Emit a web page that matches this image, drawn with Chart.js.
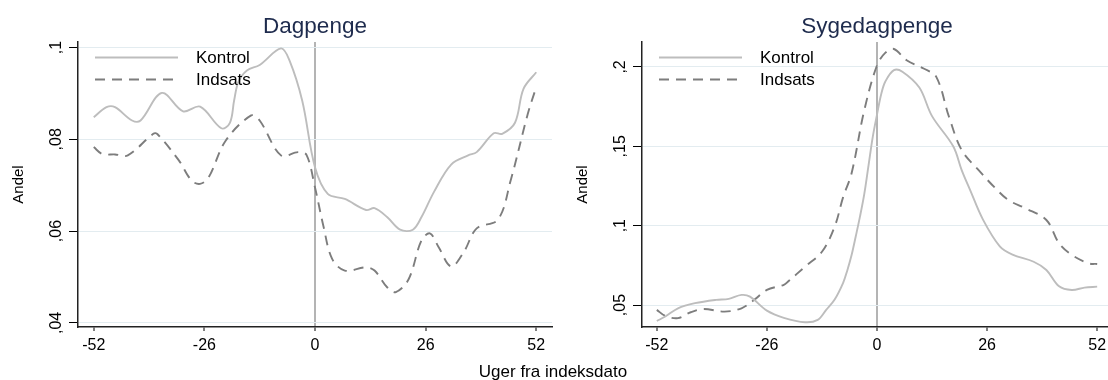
<!DOCTYPE html>
<html lang="da">
<head>
<meta charset="utf-8">
<title>Dagpenge og sygedagpenge</title>
<script src="https://cdn.jsdelivr.net/npm/chart.js@4.4.1/dist/chart.umd.min.js"></script>
<style>
    html, body { margin: 0; padding: 0; background: #fff; overflow: hidden; }
    body { width: 1108px; height: 380px; position: relative; font-family: "Liberation Sans", Arial, sans-serif; }
    .panel { position: absolute; top: 0; width: 560px; height: 380px; }
    #venstre { left: 0; }
    #hoejre { left: 560px; }
    #xtitel { position: absolute; left: 0; width: 1106px; top: 362px; text-align: center; font-size: 17px; line-height: 20px; color: #000; }
</style>
</head>
<body>
<div class="panel" id="venstre"><canvas id="dagpenge" width="560" height="380"></canvas></div>
<div class="panel" id="hoejre"><canvas id="sygedagpenge" width="560" height="380"></canvas></div>
<div id="xtitel">Uger fra indeksdato</div>
<script>
(function () {

    "use strict";

    // x-akse: uger fra indeksdato
    var ugeTicks = [-52, -26, 0, 26, 52];

    // Dagpenge
    var dagKontrolUger = [-52, -49, -47, -43, -41, -36, -31, -27, -22, -20, -19, -18, -16, -13, -8, -6, -3, 0, 3, 7, 12, 14, 17, 20, 23, 25, 28, 32, 36, 38, 42, 44, 47, 49, 52];
    var dagKontrol = [0.0848, 0.0870, 0.0870, 0.0841, 0.0841, 0.0901, 0.0861, 0.0871, 0.0824, 0.0836, 0.0885, 0.0925, 0.0950, 0.0962, 0.0998, 0.0972, 0.0884, 0.0739, 0.0681, 0.0670, 0.0646, 0.0650, 0.0630, 0.0603, 0.0603, 0.0630, 0.0686, 0.0745, 0.0765, 0.0772, 0.0813, 0.0812, 0.0836, 0.0910, 0.0946];
    var dagIndsatsUger = [-52, -50, -47, -44, -38, -37, -32, -29, -27, -25, -21, -15, -13, -8, -4, -2, 0, 2, 4, 7, 12, 14, 17, 19, 22, 25, 27, 29, 32, 35, 38, 43, 46, 50, 52];
    var dagIndsats = [0.0783, 0.0768, 0.0767, 0.0765, 0.0812, 0.0811, 0.0754, 0.0710, 0.0703, 0.0717, 0.0797, 0.0852, 0.0841, 0.0765, 0.0772, 0.0766, 0.0695, 0.0610, 0.0540, 0.0514, 0.0521, 0.0514, 0.0477, 0.0467, 0.0495, 0.0579, 0.0595, 0.0566, 0.0523, 0.0555, 0.0606, 0.0625, 0.0711, 0.0855, 0.0914];
    var dagTicks = [0.04, 0.06, 0.08, 0.1];

    // Sygedagpenge
    var sygKontrolUger = [-52, -50, -47, -43, -38, -35, -32, -30, -26, -22, -17, -14, -12, -10, -8, -7, -6, -5, -4, -3, -2, -1, 0, 1, 2, 4, 6, 10, 13, 18, 20, 22, 25, 29, 32, 37, 40, 43, 46, 49, 52];
    var sygKontrol = [0.0400, 0.0428, 0.0480, 0.0512, 0.0533, 0.0539, 0.0564, 0.0553, 0.0465, 0.0420, 0.0392, 0.0407, 0.0470, 0.0535, 0.0640, 0.0720, 0.0815, 0.0935, 0.1060, 0.1200, 0.1380, 0.1560, 0.1700, 0.1830, 0.1910, 0.1980, 0.1970, 0.1870, 0.1690, 0.1500, 0.1350, 0.1224, 0.1040, 0.0870, 0.0818, 0.0773, 0.0721, 0.0618, 0.0595, 0.0610, 0.0616];
    var sygIndsatsUger = [-52, -50, -47, -44, -41, -36, -32, -29, -26, -22, -21, -17, -13, -10, -8, -6, -3, 0, 2, 4, 7, 11, 14, 17, 20, 24, 28, 31, 35, 40, 43, 46, 50, 52];
    var sygIndsats = [0.0470, 0.0432, 0.0418, 0.0455, 0.0475, 0.0459, 0.0480, 0.0533, 0.0596, 0.0627, 0.0648, 0.0742, 0.0836, 0.0994, 0.1180, 0.1330, 0.1728, 0.2010, 0.2090, 0.2113, 0.2042, 0.1990, 0.1937, 0.1686, 0.1476, 0.1350, 0.1235, 0.1162, 0.1110, 0.1036, 0.0889, 0.0816, 0.0763, 0.0759];
    var sygTicks = [0.05, 0.1, 0.15, 0.2];

    var serieNavne = ['Kontrol', 'Indsats'];

    var skrift = '"Liberation Sans", Arial, sans-serif';
    Chart.defaults.font.family = skrift;
    Chart.defaults.color = '#000';

    /**
     * Samler uger og andele til punkter
     */
    function tilPunkter(uger, vaerdier) {
        return uger.map(function (u, i) {
            return { x: u, y: vaerdier[i] };
        });
    }

    // Dansk decimalkomma uden foranstillet nul: 0.08 -> ,08
    function andelTekst(v) {
        return String(+v.toFixed(2)).replace('0.', ',');
    }

    function fasteTicks(liste) {
        return function (scale) {
            scale.ticks = liste.map(function (v) { return { value: v }; });
        };
    }

    /**
     * Legende inde i plotområdet, oppe til venstre (som i Stata)
     */
    var legendeIPlot = {
        id: 'legendeIPlot',
        afterDatasetsDraw: function (chart) {
            var ctx = chart.ctx;
            var area = chart.chartArea;
            ctx.save();
            chart.data.datasets.forEach(function (ds, i) {
                var y = area.top + 15.5 + i * 22;
                ctx.strokeStyle = ds.borderColor;
                ctx.lineWidth = ds.borderWidth;
                ctx.setLineDash(ds.borderDash || []);
                ctx.beginPath();
                ctx.moveTo(area.left + 17, y);
                ctx.lineTo(area.left + 100, y);
                ctx.stroke();
                ctx.setLineDash([]);
                ctx.fillStyle = '#000';
                ctx.font = '17px ' + skrift;
                ctx.textAlign = 'left';
                ctx.textBaseline = 'middle';
                ctx.fillText(ds.label, area.left + 118, y + 1);
            });
            ctx.restore();
        }
    };

    /**
     * Opretter et af de to panelers linjediagram
     */
    function lavPanel(id, p) {
        return new Chart(document.getElementById(id), {
            type: 'line',
            data: {
                datasets: [{
                    label: serieNavne[0],
                    data: tilPunkter(p.kontrolUger, p.kontrol),
                    borderColor: '#bdbdbd',
                    borderWidth: 1.9,
                    pointRadius: 0,
                    tension: 0.35,
                    fill: false
                }, {
                    label: serieNavne[1],
                    data: tilPunkter(p.indsatsUger, p.indsats),
                    borderColor: '#7d7d7d',
                    borderWidth: 1.9,
                    borderDash: [10, 7],
                    pointRadius: 0,
                    tension: 0.35,
                    fill: false
                }]
            },
            options: {
                responsive: false,
                animation: false,
                devicePixelRatio: 1,
                layout: { padding: { left: 0, right: 8, top: 0, bottom: 0 } },
                plugins: {
                    legend: { display: false },
                    tooltip: { enabled: false },
                    title: {
                        display: true,
                        text: p.titel,
                        fullSize: false,
                        color: '#1e2b4d',
                        font: { size: 22.5, weight: 'normal' },
                        padding: { top: 13, bottom: 2 }
                    }
                },
                scales: {
                    x: {
                        type: 'linear',
                        min: p.xMin,
                        max: p.xMax,
                        afterBuildTicks: fasteTicks(ugeTicks),
                        afterFit: function (s) { s.height = 53; },
                        ticks: {
                            font: { size: 16 },
                            color: '#000',
                            padding: 5,
                            maxRotation: 0,
                            autoSkip: false,
                            callback: function (v) { return String(v); }
                        },
                        grid: {
                            color: function (c) {
                                return c.tick && c.tick.value === 0 ? '#b4b4b4' : 'rgba(0,0,0,0)';
                            },
                            lineWidth: 2,
                            drawTicks: true,
                            tickLength: 4,
                            tickColor: '#000',
                            tickWidth: 1
                        },
                        border: { color: '#222', width: 1.5 }
                    },
                    y: {
                        min: p.yMin,
                        max: p.yMax,
                        afterBuildTicks: fasteTicks(p.yTicks),
                        afterFit: function (s) { s.width = p.aksebredde; },
                        ticks: {
                            font: { size: 16 },
                            color: '#000',
                            minRotation: 90,
                            maxRotation: 90,
                            crossAlign: 'center',
                            padding: 1,
                            callback: andelTekst
                        },
                        title: {
                            display: true,
                            text: 'Andel',
                            font: { size: 15 },
                            color: '#000',
                            padding: { top: p.andelPad, bottom: 0 }
                        },
                        grid: {
                            color: '#e3ecf0',
                            lineWidth: 1,
                            drawTicks: true,
                            tickLength: 9,
                            tickColor: '#000',
                            tickWidth: 1
                        },
                        border: { color: '#222', width: 1.5 }
                    }
                }
            },
            plugins: [legendeIPlot]
        });
    }

    lavPanel('dagpenge', {
        titel: 'Dagpenge',
        kontrolUger: dagKontrolUger, kontrol: dagKontrol,
        indsatsUger: dagIndsatsUger, indsats: dagIndsats,
        xMin: -55.7, xMax: 55.7,
        yMin: 0.0391, yMax: 0.1012, yTicks: dagTicks,
        aksebredde: 78, andelPad: 10
    });

    lavPanel('sygedagpenge', {
        titel: 'Sygedagpenge',
        kontrolUger: sygKontrolUger, kontrol: sygKontrol,
        indsatsUger: sygIndsatsUger, indsats: sygIndsats,
        xMin: -55.5, xMax: 55.5,
        yMin: 0.0362, yMax: 0.2157, yTicks: sygTicks,
        aksebredde: 82, andelPad: 14
    });

})();
</script>
</body>
</html>
